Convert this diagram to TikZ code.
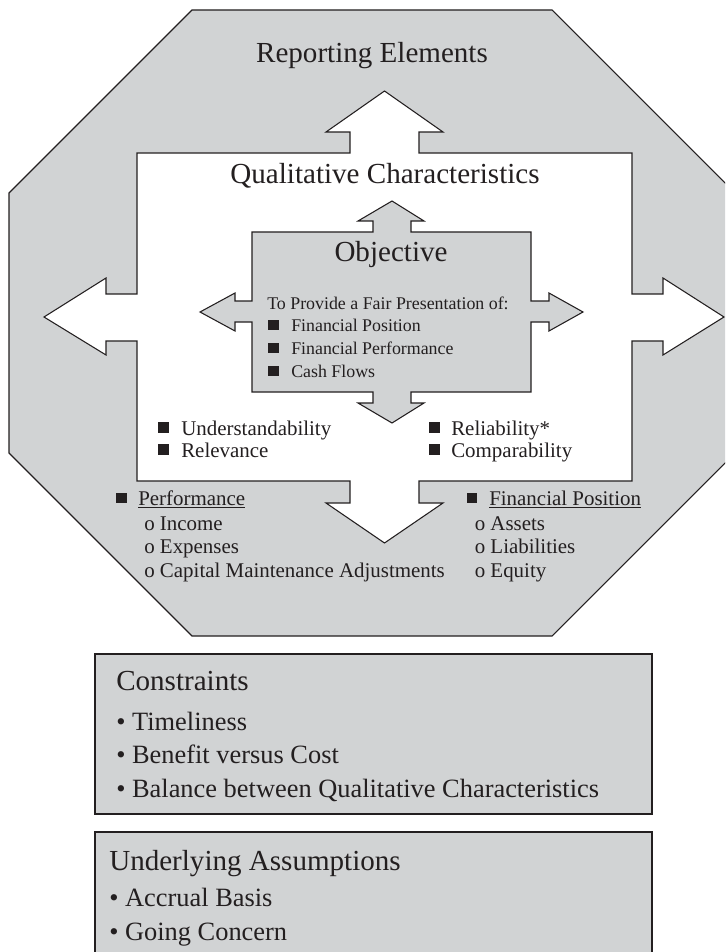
\documentclass[tikz,border=0pt]{standalone}
\usepackage{fontspec}
\setmainfont{Liberation Serif}
\definecolor{panel}{HTML}{D1D3D4}
\definecolor{ink}{HTML}{231F20}
\begin{document}
\begin{tikzpicture}[x=0.75pt,y=-0.75pt,
  shapeline/.style={draw=ink,line width=0.8pt,line join=miter},
  title/.style={font=\fontsize{21.8}{24}\selectfont,text=ink,inner sep=0pt,anchor=base},
  boxtitle/.style={font=\fontsize{21.8}{24}\selectfont,text=ink,inner sep=0pt,anchor=base west},
  objitem/.style={font=\fontsize{13.4}{16}\selectfont,text=ink,inner sep=0pt,anchor=base west},
  miditem/.style={font=\fontsize{15.7}{18}\selectfont,text=ink,inner sep=0pt,anchor=base west},
  boxitem/.style={font=\fontsize{19.8}{22}\selectfont,text=ink,inner sep=0pt,anchor=base west},
  uline/.style={draw=ink,line width=0.6pt}]
\useasboundingbox (0,0) rectangle (725,952);
\fill[white] (0,0) rectangle (725,952);
\clip (0,0) rectangle (725,952);

% octagon (reporting elements)
\path[shapeline,fill=panel] (192,10) -- (552,10) -- (735,193) -- (735,453) -- (552,636)
  -- (192,636) -- (9,453) -- (9,193) -- cycle;

% white qualitative characteristics shape
\path[shapeline,fill=white] (137,153) -- (350,153) -- (350,132) -- (326,132) -- (384.5,91)
  -- (443,132) -- (419,132) -- (419,153) -- (632,153) -- (632,294) -- (663,294) -- (663,278)
  -- (724,317) -- (663,355) -- (663,341) -- (632,341) -- (632,481) -- (419,481) -- (419,503)
  -- (443,503) -- (384.5,543) -- (326,503) -- (350,503) -- (350,481) -- (137,481) -- (137,341)
  -- (106,341) -- (106,355) -- (44,317) -- (106,278) -- (106,294) -- (137,294) -- cycle;

% objective shape
\path[shapeline,fill=panel] (252,232) -- (373,232) -- (373,221) -- (358,221) -- (392,201)
  -- (424,221) -- (411,221) -- (411,232) -- (531,232) -- (531,301) -- (549,301) -- (549,293)
  -- (583,312) -- (549,331) -- (549,322) -- (531,322) -- (531,392) -- (411,392) -- (411,403)
  -- (424,403) -- (392,423) -- (358,403) -- (373,403) -- (373,392) -- (252,392) -- (252,322)
  -- (235,322) -- (235,331) -- (200,312) -- (235,293) -- (235,301) -- (252,301) -- cycle;

% bottom boxes
\path[shapeline,fill=panel] (95,654) rectangle (652,814);
\path[shapeline,fill=panel] (95,832) rectangle (652,965);

% titles
\node[title] (rep) at (372,63) {Reporting Elements};
\node[title] (qual) at (385,184) {Qualitative Characteristics};
\node[title] (obj) at (391,262) {Objective};

% objective list
\node[objitem] (fair) at (267,309) {To Provide a Fair Presentation of:};
\node[objitem] (o1) at (291,331) {Financial Position};
\node[objitem] (o2) at (291,354) {Financial Performance};
\node[objitem] (o3) at (291,377) {Cash Flows};
\foreach \b in {331,354,377} \fill[ink] (268,\b-1) rectangle ++(11,-10);

% qualitative characteristics list
\node[miditem] (q1) at (181,435) {Understandability};
\node[miditem] (q2) at (181,457) {Relevance};
\node[miditem] (q3) at (451,435) {Reliability*};
\node[miditem] (q4) at (451,457) {Comparability};
\foreach \b in {435,457} {
  \fill[ink] (158,\b-2) rectangle ++(11,-11);
  \fill[ink] (429,\b-2) rectangle ++(10.5,-11);
}

% reporting elements lists
\node[miditem] (perf) at (138,505.5) {Performance};
\node[miditem] (p1) at (144,530) {o Income};
\node[miditem] (p2) at (144,553) {o Expenses};
\node[miditem] (p3) at (144,577) {o Capital Maintenance Adjustments};
\node[miditem] (fpos) at (489,505.5) {Financial Position};
\node[miditem] (f1) at (474.5,530) {o Assets};
\node[miditem] (f2) at (474.5,553) {o Liabilities};
\node[miditem] (f3) at (474.5,577) {o Equity};
\fill[ink] (116,503) rectangle ++(10.5,-10.5);
\fill[ink] (466.5,503) rectangle ++(10.5,-10.5);
\draw[uline] ([yshift=-1.6pt]perf.base west) -- ([yshift=-1.6pt]perf.base east);
\draw[uline] ([yshift=-1.6pt]fpos.base west) -- ([yshift=-1.6pt]fpos.base east);

% constraints
\node[boxtitle] (con) at (116,690.7) {Constraints};
\node[boxitem] (c1) at (116,730) {• Timeliness};
\node[boxitem] (c2) at (116,763) {• Benefit versus Cost};
\node[boxitem] (c3) at (116,797) {• Balance between Qualitative Characteristics};

% underlying assumptions
\node[boxtitle] (ua) at (109,870.7) {Underlying Assumptions};
\node[boxitem] (u1) at (109,906.7) {• Accrual Basis};
\node[boxitem] (u2) at (109,940) {• Going Concern};
\end{tikzpicture}
\end{document}
